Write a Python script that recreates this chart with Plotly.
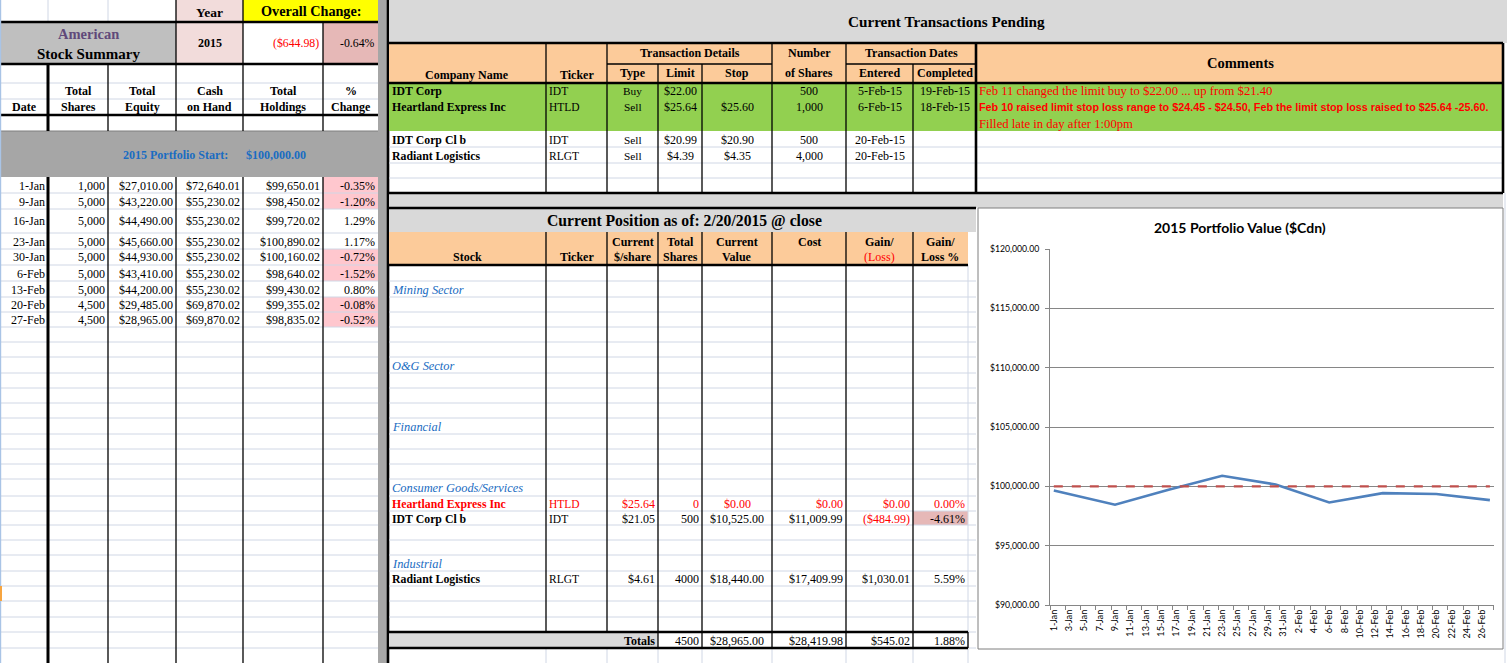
import plotly.graph_objects as go

W, H = 1507, 663

# ---------------- data ----------------
year = "2015"
overall_change = -644.98
overall_change_pct = -0.64
portfolio_start = 100000.00

week_labels = ["1-Jan", "9-Jan", "16-Jan", "23-Jan", "30-Jan", "6-Feb", "13-Feb", "20-Feb", "27-Feb"]
week_dates = ["2015-01-01", "2015-01-09", "2015-01-16", "2015-01-23", "2015-01-30",
              "2015-02-06", "2015-02-13", "2015-02-20", "2015-02-27"]
total_shares = [1000, 5000, 5000, 5000, 5000, 5000, 5000, 4500, 4500]
total_equity = [27010.00, 43220.00, 44490.00, 45660.00, 44930.00, 43410.00, 44200.00, 29485.00, 28965.00]
cash_on_hand = [72640.01, 55230.02, 55230.02, 55230.02, 55230.02, 55230.02, 55230.02, 69870.02, 69870.02]
total_holdings = [99650.01, 98450.02, 99720.02, 100890.02, 100160.02, 98640.02, 99430.02, 99355.02, 98835.02]
pct_change = [-0.35, -1.20, 1.29, 1.17, -0.72, -1.52, 0.80, -0.08, -0.52]

tx_company = ["IDT Corp", "Heartland Express Inc", "IDT Corp Cl b", "Radiant Logistics"]
tx_ticker = ["IDT", "HTLD", "IDT", "RLGT"]
tx_type = ["Buy", "Sell", "Sell", "Sell"]
tx_limit = [22.00, 25.64, 20.99, 4.39]
tx_stop = [None, 25.60, 20.90, 4.35]
tx_shares = [500, 1000, 500, 4000]
tx_entered = ["5-Feb-15", "6-Feb-15", "20-Feb-15", "20-Feb-15"]
tx_completed = ["19-Feb-15", "18-Feb-15", "", ""]
tx_comments = [
    "Feb 11 changed the limit buy to $22.00 ... up from $21.40",
    "Feb 10 raised limit stop loss range to $24.45 - $24.50, Feb the limit stop loss raised to $25.64 -25.60.",
    "Filled late in day after 1:00pm",
]

pos_date = "2/20/2015"
pos_sectors = ["Mining Sector", "O&G Sector", "Financial", "Consumer Goods/Services", "Industrial"]
pos_stock = ["Heartland Express Inc", "IDT Corp Cl b", "Radiant Logistics"]
pos_ticker = ["HTLD", "IDT", "RLGT"]
pos_price = [25.64, 21.05, 4.61]
pos_shares = [0, 500, 4000]
pos_value = [0.00, 10525.00, 18440.00]
pos_cost = [0.00, 11009.99, 17409.99]
pos_gain = [0.00, -484.99, 1030.01]
pos_gain_pct = [0.00, -4.61, 5.59]
tot_shares = 4500
tot_value = 28965.00
tot_cost = 28419.98
tot_gain = 545.02
tot_gain_pct = 1.88

# ---------------- sheet geometry (pixels) ----------------
L_COLS = [0, 48, 108, 176, 243, 323, 378]
MID_ROWS = [265, 281, 297, 312, 327, 342, 357, 373, 388, 403, 418, 434, 449, 464,
            479, 496, 511, 525, 540, 555, 571, 586, 601, 617, 632, 648, 663]
LEFT_ROWS = [177, 193, 209, 233, 249] + MID_ROWS
TX_ROWS = [(83, 99), (99, 115), (131, 147), (147, 163)]
COMMENT_ROWS = [(83, 99), (99, 115), (115, 131)]
SECTOR_IDX = [1, 6, 10, 14, 19]
STOCK_IDX = [15, 16, 20]
TOTAL_IDX = 24

SERIF = "Liberation Serif"
SANS = "Liberation Sans"
BODY = 12
GRID = "#D0D7E5"
ORANGE = "#FCCB9A"
GREEN = "#92D050"
RED = "#FF0000"
BLUE = "#1A6CC2"

shapes = []
annotations = []


def px(x):
    return x / W


def py(y):
    return 1 - y / H


def rect(x0, y0, x1, y1, fill, line=None, lw=0):
    shapes.append(dict(type="rect", xref="paper", yref="paper", layer="below",
                       x0=px(x0), x1=px(x1), y0=py(y1), y1=py(y0), fillcolor=fill,
                       line=dict(width=lw, color=line or fill)))


def hline(y, x0, x1, w=1.0, color="black"):
    shapes.append(dict(type="line", xref="paper", yref="paper", layer="below",
                       x0=px(x0), x1=px(x1), y0=py(y), y1=py(y), line=dict(width=w, color=color)))


def vline(x, y0, y1, w=1.0, color="black"):
    shapes.append(dict(type="line", xref="paper", yref="paper", layer="below",
                       x0=px(x), x1=px(x), y0=py(y0), y1=py(y1), line=dict(width=w, color=color)))


def text(x, y, s, anchor="left", size=BODY, color="black", family=SERIF):
    annotations.append(dict(xref="paper", yref="paper", x=px(x), y=py(y), text=s, showarrow=False,
                            xanchor=anchor, yanchor="middle", borderpad=0,
                            font=dict(family=family, size=size, color=color)))


def cell(x0, x1, y0, y1, s, align="left", **kw):
    yc = (y0 + y1) / 2 + 0.5
    if align == "left":
        text(x0 + 2, yc, s, "left", **kw)
    elif align == "right":
        text(x1 - 2, yc, s, "right", **kw)
    else:
        text((x0 + x1) / 2, yc, s, "center", **kw)


def money(v):
    return f"${v:,.2f}" if v >= 0 else f"(${-v:,.2f})"


# ---------------- left panel: stock summary ----------------
rect(176, 0, 243, 64, "#F2DCDB")
rect(243, 0, 378, 22, "#FFFF00")
rect(0, 22, 176, 64, "#BFBFBF")
rect(323, 22, 378, 64, "#E6B8B7")
rect(0, 131, 378, 177, "#A6A6A6")
for i, p in enumerate(pct_change):
    if p < 0:
        rect(323, LEFT_ROWS[i], 378, LEFT_ROWS[i + 1], "#FFC7CE")

vline(48, 0, 22, 1, GRID)
vline(108, 0, 22, 1, GRID)
for y in (83, 99):
    hline(y, 0, 378, 1, GRID)
for y in LEFT_ROWS[1:-1]:
    hline(y, 0, 378, 1, GRID)
hline(131, 0, 378, 1, "#7F7F7F")

for y in (22, 64, 115):
    hline(y, 0, 378, 2.6)
for x in L_COLS[2:6]:
    vline(x, 64, 131, 1.3)
    vline(x, 177, H, 1.3)
vline(48, 64, 131, 3)
vline(48, 177, H, 3)
vline(176, 0, 64, 1.3)
vline(243, 0, 64, 1.3)
vline(323, 22, 64, 1.3)
vline(0.6, 0, H, 1.2, "#A9C4E6")
rect(0, 586, 2, 601, "#F7A540")

text(209.5, 12, "<b>Year</b>", "center", size=13.5)
text(310.5, 11, "<b>Overall Change:</b>", "center", size=14.2)
text(88, 34, "<b>American</b>", "center", size=14.5, color="#60497A")
text(88, 54, "<b>Stock Summary</b>", "center", size=15)
text(209.5, 43, f"<b>{year}</b>", "center", size=12)
text(320, 43, money(overall_change), "right", size=11.8, color=RED)
text(376, 43, f"{overall_change_pct:.2f}%", "right", size=11.8)

left_heads = [("", "Date"), ("Total", "Shares"), ("Total", "Equity"), ("Cash", "on Hand"),
              ("Total", "Holdings"), ("%", "Change")]
for i, (a, b) in enumerate(left_heads):
    xc = (L_COLS[i] + L_COLS[i + 1]) / 2
    if a:
        text(xc, 91.5, f"<b>{a}</b>", "center", size=12)
    text(xc, 107.5, f"<b>{b}</b>", "center", size=12)

text(229, 155, "<b>2015 Portfolio Start:</b>", "right", size=12, color=BLUE)
text(245, 155, f"<b>{money(portfolio_start)}</b>", "left", size=12, color=BLUE)

for i in range(len(week_labels)):
    y0, y1 = LEFT_ROWS[i], LEFT_ROWS[i + 1]
    vals = [week_labels[i], f"{total_shares[i]:,}", money(total_equity[i]), money(cash_on_hand[i]),
            money(total_holdings[i]), f"{pct_change[i]:.2f}%"]
    for j, v in enumerate(vals):
        cell(L_COLS[j], L_COLS[j + 1], y0, y1, v, "right")

# separator bar
rect(378, 0, 387, H, "#A6A6A6")
vline(388, 0, H, 2.6)

# ---------------- transactions pending ----------------
rect(389, 0, W, 43, "#D9D9D9")
rect(389, 43, 1503, 83, ORANGE)
rect(389, 83, 1503, 131, GREEN)
rect(389, 193, 1503, 208, "#D9D9D9")
for y in (147, 163, 178):
    hline(y, 389, 1503, 1, GRID)
hline(64, 607, 772, 1.3)
hline(64, 846, 976, 1.3)
for x in (546, 607, 772, 846):
    vline(x, 43, 193, 1.3)
for x in (658, 702, 913):
    vline(x, 64, 193, 1.3)
for y in (43, 83, 193):
    hline(y, 389, 1503, 2.6)
vline(976, 43, 193, 2.6)
vline(1503, 43, 193, 2.6)
vline(1505, 193, H, 1, GRID)

text(946, 21, "<b>Current Transactions Pending</b>", "center", size=15.2)
text(1240, 63, "<b>Comments</b>", "center", size=14.5)
text(467, 75, "<b>Company Name</b>", "center", size=12)
text(576.5, 75, "<b>Ticker</b>", "center", size=12)
text(689.5, 53, "<b>Transaction Details</b>", "center", size=12)
text(809, 53, "<b>Number</b>", "center", size=12)
text(809, 73, "<b>of Shares</b>", "center", size=12)
text(911, 53, "<b>Transaction Dates</b>", "center", size=12)
for (x0, x1), lab in zip([(607, 658), (658, 702), (702, 772), (846, 913), (913, 976)],
                         ["Type", "Limit", "Stop", "Entered", "Completed"]):
    text((x0 + x1) / 2, 73, f"<b>{lab}</b>", "center", size=12)

for i, (y0, y1) in enumerate(TX_ROWS):
    cell(389, 546, y0, y1, f"<b>{tx_company[i]}</b>", "left", size=11.8)
    cell(546, 607, y0, y1, tx_ticker[i], "left", size=11.5)
    cell(607, 658, y0, y1, tx_type[i], "center", size=11.3)
    cell(658, 702, y0, y1, money(tx_limit[i]), "center")
    if tx_stop[i] is not None:
        cell(702, 772, y0, y1, money(tx_stop[i]), "center")
    cell(772, 846, y0, y1, f"{tx_shares[i]:,}", "center")
    cell(846, 913, y0, y1, tx_entered[i], "center")
    if tx_completed[i]:
        cell(913, 976, y0, y1, tx_completed[i], "center")

for i, (y0, y1) in enumerate(COMMENT_ROWS):
    if i == 1:
        cell(976, 1503, y0, y1, f"<b>{tx_comments[i]}</b>", "left", size=10.8, color=RED, family=SANS)
    else:
        cell(976, 1503, y0, y1, tx_comments[i], "left", size=12.7, color=RED)

# ---------------- current position ----------------
rect(389, 208, 976, 232, "#D9D9D9")
rect(389, 232, 968, 265, ORANGE)
rect(389, 632, 658, 648, "#D9D9D9")
rect(913, MID_ROWS[STOCK_IDX[1]], 968, MID_ROWS[STOCK_IDX[1] + 1], "#E6B8B7")
for y in MID_ROWS[1:-1]:
    hline(y, 389, 976, 1, GRID)
vline(968, 265, H, 1, GRID)
for x in (546, 607, 658, 702, 772, 846, 913):
    vline(x, 232, 632, 1.3)
    vline(x, 648, H, 1, GRID)
for x in (658, 702, 772, 846, 913, 968):
    vline(x, 632, 648, 1.3)
hline(208, 389, 976, 2.6)
hline(265, 389, 968, 2.6)
hline(632, 389, 968, 2.6)
hline(648, 389, 968, 2.6)

text(684, 221, f"<b>Current Position as of: {pos_date} @ close</b>", "center", size=15.7)
pos_heads = [((389, 546), "", "Stock"), ((546, 607), "", "Ticker"), ((607, 658), "Current", "$/share"),
             ((658, 702), "Total", "Shares"), ((702, 772), "Current", "Value"), ((772, 846), "Cost", ""),
             ((846, 913), "Gain/", "(Loss)"), ((913, 968), "Gain/", "Loss %")]
for (x0, x1), a, b in pos_heads:
    xc = (x0 + x1) / 2
    if a:
        text(xc, 242, f"<b>{a}</b>", "center", size=12)
    if b == "(Loss)":
        text(xc, 257, b, "center", size=12, color=RED)
    elif b:
        text(xc, 257, f"<b>{b}</b>", "center", size=12)

for k, s in zip(SECTOR_IDX, pos_sectors):
    cell(389, 546, MID_ROWS[k], MID_ROWS[k + 1], f"<i>{s}</i>", "left", size=12.4, color=BLUE)

for i, k in enumerate(STOCK_IDX):
    y0, y1 = MID_ROWS[k], MID_ROWS[k + 1]
    c = RED if pos_shares[i] == 0 else "black"
    cell(389, 546, y0, y1, f"<b>{pos_stock[i]}</b>", "left", size=11.8, color=c)
    cell(546, 607, y0, y1, pos_ticker[i], "left", size=11.5, color=c)
    cell(607, 658, y0, y1, money(pos_price[i]), "right", color=c)
    cell(658, 702, y0, y1, f"{pos_shares[i]}", "right", color=c)
    cell(702, 772, y0, y1, money(pos_value[i]), "center", color=c)
    cell(772, 846, y0, y1, money(pos_cost[i]), "right", color=c)
    cell(846, 913, y0, y1, money(pos_gain[i]), "right", color=RED if (pos_gain[i] < 0 or c == RED) else "black")
    cell(913, 968, y0, y1, f"{pos_gain_pct[i]:.2f}%", "right", color=c)

y0, y1 = MID_ROWS[TOTAL_IDX], MID_ROWS[TOTAL_IDX + 1]
cell(389, 658, y0, y1, "<b>Totals</b>", "right", size=12)
cell(658, 702, y0, y1, f"{tot_shares}", "right")
cell(702, 772, y0, y1, money(tot_value), "center")
cell(772, 846, y0, y1, money(tot_cost), "right")
cell(846, 913, y0, y1, money(tot_gain), "right")
cell(913, 968, y0, y1, f"{tot_gain_pct:.2f}%", "right")

# ---------------- chart ----------------
rect(978, 208, 1503, 649, "white", line="#7F7F7F", lw=1)
text(1240, 227, "<b>2015 Portfolio Value ($Cdn)</b>", "center", size=14, family="Lato")

fig = go.Figure()
fig.add_trace(go.Scatter(x=week_dates, y=total_holdings, mode="lines",
                         line=dict(color="#4F81BD", width=2.6), hoverinfo="x+y"))
fig.add_trace(go.Scatter(x=[week_dates[0], week_dates[-1]], y=[portfolio_start, portfolio_start],
                         mode="lines", line=dict(color="#C0504D", width=2.3, dash="dash")))

day = 86400000
fig.update_xaxes(
    domain=[px(1050), px(1493.7)],
    automargin=False,
    type="date",
    range=["2014-12-31 12:00", "2015-02-27 12:00"],
    tickmode="linear", tick0="2015-01-01", dtick=2 * day,
    tickformat="%-d-%b", tickangle=-90,
    ticks="", showgrid=False, zeroline=False,
    showline=True, linecolor="#868686", linewidth=1,
    minor=dict(ticks="outside", tick0="2014-12-31 12:00", dtick=2 * day,
               ticklen=4, tickcolor="#868686", showgrid=False),
    tickfont=dict(family="Lato", size=9.2, color="black"),
)
fig.update_yaxes(
    domain=[py(605), py(249)],
    automargin=False,
    range=[90000, 120000], dtick=5000, tickformat="$,.2f",
    showgrid=True, gridcolor="#868686", gridwidth=1, zeroline=False,
    showline=True, linecolor="#868686", linewidth=1,
    ticks="outside", ticklen=4, tickcolor="#868686", ticklabelstandoff=4,
    tickfont=dict(family="Lato", size=8.7, color="black"),
)

fig.update_layout(
    width=W, height=H,
    margin=dict(l=0, r=0, t=0, b=0, pad=0, autoexpand=False),
    paper_bgcolor="white", plot_bgcolor="white",
    showlegend=False,
    shapes=shapes,
    annotations=annotations,
)

# pin the graph to the window corner so the page is exactly W x H
pin = ("document.documentElement.style.margin='0';document.body.style.margin='0';"
       "document.body.style.overflow='hidden';"
       "var g=document.querySelector('.plotly-graph-div');"
       "g.style.position='fixed';g.style.left='0px';g.style.top='0px';")
fig.write_html("out.html", config={"displayModeBar": False}, post_script=pin)
